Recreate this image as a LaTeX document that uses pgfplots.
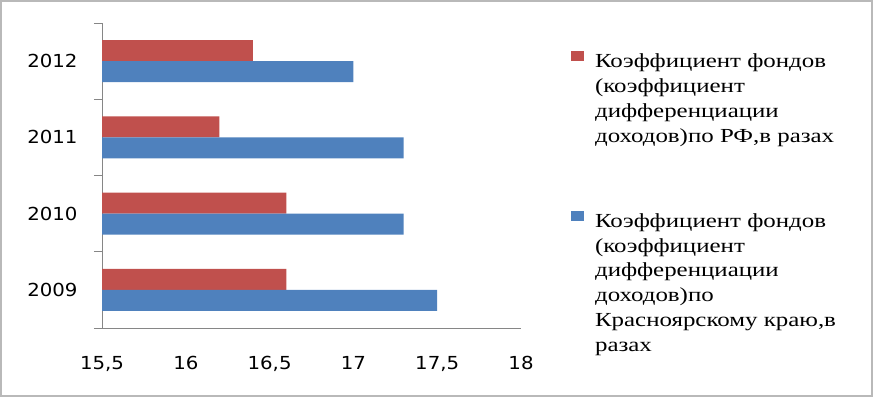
\documentclass[border=0pt]{standalone}
\usepackage{fontspec}
\setmainfont{Liberation Serif}
\newfontfamily\tickfont[FakeStretch=1.1]{DejaVu Sans}
\newfontfamily\legfont[FakeStretch=1.25]{Liberation Serif}
\usepackage{pgfplots}
\pgfplotsset{compat=1.18}
\definecolor{rfred}{HTML}{C0504D}
\definecolor{krblue}{HTML}{4F81BD}
\definecolor{axgray}{HTML}{868686}
\begin{document}
\begin{tikzpicture}[x=1bp,y=1bp]
\useasboundingbox (0,0) rectangle (874,-398);
\draw[gray!55, line width=1.5bp] (1,-1) rectangle (872,-396);
\begin{axis}[
  at={(102bp,-328bp)}, anchor=south west,
  width=419bp, height=305bp, scale only axis,
  xmin=15.5, xmax=18, ymin=-0.5, ymax=3.5,
  axis lines*=left,
  axis line style={draw=axgray, line width=1bp},
  xtick={15.5,16,16.5,17,17.5,18},
  xtick style={draw=none},
  /pgf/number format/use comma,
  /pgf/number format/assume math mode=true,
  xticklabel style={font=\tickfont\fontsize{18}{18}\selectfont, yshift=-25bp},
  ytick={0,1,2,3}, yticklabels={2009,2010,2011,2012},
  ytick style={draw=none},
  yticklabel style={font=\tickfont\fontsize{18}{18}\selectfont, xshift=-21bp},
  extra y ticks={-0.5,0.5,1.5,2.5,3.5},
  extra y tick labels={},
  extra y tick style={ytick style={draw=axgray, line width=1bp}, major tick length=8bp, tick align=outside},
  legend style={at={(axis description cs:1.119,0.908)}, anchor=north west, draw=none, fill=none,
    row sep=140bp, column sep=9bp, inner sep=0pt,
    nodes={inner sep=2bp}},
  legend cell align=left,
  legend image code/.code={\fill[#1] (0bp,0bp) rectangle (13bp,10bp);},
]
\addplot[xbar, bar width=21bp, bar shift=10.5bp, fill=rfred, draw=none]
  coordinates {(16.6,0) (16.6,1) (16.2,2) (16.4,3)};
\addlegendentry{\parbox[t]{260bp}{\legfont\fontsize{20}{25}\selectfont Коэффициент фондов\\(коэффициент\\дифференциации\\доходов)по РФ,в разах}}
\addplot[xbar, bar width=21bp, bar shift=-10.5bp, fill=krblue, draw=none]
  coordinates {(17.5,0) (17.3,1) (17.3,2) (17.0,3)};
\addlegendentry{\parbox[t]{260bp}{\legfont\fontsize{20}{25}\selectfont Коэффициент фондов\\(коэффициент\\дифференциации\\доходов)по\\Красноярскому краю,в\\разах}}
\end{axis}
\end{tikzpicture}
\end{document}
